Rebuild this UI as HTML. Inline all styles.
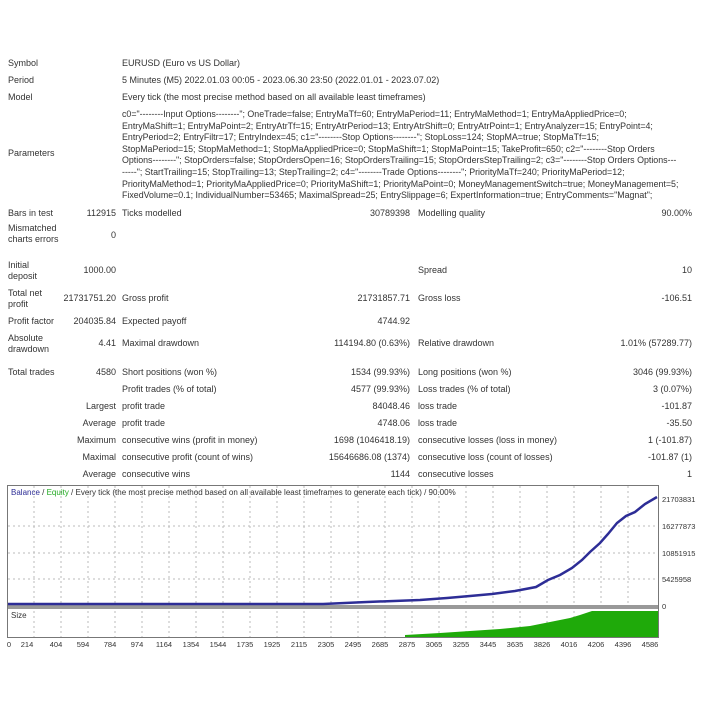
<!DOCTYPE html>
<html><head><meta charset="utf-8"><style>
body{margin:0;width:701px;height:701px;background:#fff;position:relative;overflow:hidden;font-family:"Liberation Sans",sans-serif;font-size:9px;color:#333}
.t{position:absolute;white-space:nowrap;line-height:11px}
.r{text-align:right}
.p{position:absolute;left:122px;top:109px;line-height:11.6px;font-size:8.85px;white-space:nowrap}
</style></head><body>
<div class="t" style="left:8px;top:58px">Symbol</div><div class="t" style="left:122px;top:58px">EURUSD (Euro vs US Dollar)</div>
<div class="t" style="left:8px;top:75px">Period</div><div class="t" style="left:122px;top:75px">5 Minutes (M5) 2022.01.03 00:05 - 2023.06.30 23:50 (2022.01.01 - 2023.07.02)</div>
<div class="t" style="left:8px;top:92px">Model</div><div class="t" style="left:122px;top:92px">Every tick (the most precise method based on all available least timeframes)</div>
<div class="t" style="left:8px;top:148px">Parameters</div>
<div class="p">c0="--------Input Options--------"; OneTrade=false; EntryMaTf=60; EntryMaPeriod=11; EntryMaMethod=1; EntryMaAppliedPrice=0;<br>EntryMaShift=1; EntryMaPoint=2; EntryAtrTf=15; EntryAtrPeriod=13; EntryAtrShift=0; EntryAtrPoint=1; EntryAnalyzer=15; EntryPoint=4;<br>EntryPeriod=2; EntryFiltr=17; EntryIndex=45; c1="--------Stop Options--------"; StopLoss=124; StopMA=true; StopMaTf=15;<br>StopMaPeriod=15; StopMaMethod=1; StopMaAppliedPrice=0; StopMaShift=1; StopMaPoint=15; TakeProfit=650; c2="--------Stop Orders<br>Options--------"; StopOrders=false; StopOrdersOpen=16; StopOrdersTrailing=15; StopOrdersStepTrailing=2; c3="--------Stop Orders Options---<br>-----"; StartTrailing=15; StopTrailing=13; StepTrailing=2; c4="--------Trade Options--------"; PriorityMaTf=240; PriorityMaPeriod=12;<br>PriorityMaMethod=1; PriorityMaAppliedPrice=0; PriorityMaShift=1; PriorityMaPoint=0; MoneyManagementSwitch=true; MoneyManagement=5;<br>FixedVolume=0.1; IndividualNumber=53465; MaximalSpread=25; EntrySlippage=6; ExpertInformation=true; EntryComments="Magnat";</div>

<div class="t" style="left:8px;top:208px">Bars in test</div><div class="t r" style="right:585px;top:208px">112915</div><div class="t" style="left:122px;top:208px">Ticks modelled</div><div class="t r" style="right:291px;top:208px">30789398</div><div class="t" style="left:418px;top:208px">Modelling quality</div><div class="t r" style="right:9px;top:208px">90.00%</div>
<div class="t" style="left:8px;top:223px">Mismatched<br>charts errors</div><div class="t r" style="right:585px;top:230px">0</div>
<div class="t" style="left:8px;top:260px">Initial<br>deposit</div><div class="t r" style="right:585px;top:265px">1000.00</div><div class="t" style="left:418px;top:265px">Spread</div><div class="t r" style="right:9px;top:265px">10</div>
<div class="t" style="left:8px;top:288px">Total net<br>profit</div><div class="t r" style="right:585px;top:293px">21731751.20</div><div class="t" style="left:122px;top:293px">Gross profit</div><div class="t r" style="right:291px;top:293px">21731857.71</div><div class="t" style="left:418px;top:293px">Gross loss</div><div class="t r" style="right:9px;top:293px">-106.51</div>
<div class="t" style="left:8px;top:316px">Profit factor</div><div class="t r" style="right:585px;top:316px">204035.84</div><div class="t" style="left:122px;top:316px">Expected payoff</div><div class="t r" style="right:291px;top:316px">4744.92</div>
<div class="t" style="left:8px;top:333px">Absolute<br>drawdown</div><div class="t r" style="right:585px;top:338px">4.41</div><div class="t" style="left:122px;top:338px">Maximal drawdown</div><div class="t r" style="right:291px;top:338px">114194.80 (0.63%)</div><div class="t" style="left:418px;top:338px">Relative drawdown</div><div class="t r" style="right:9px;top:338px">1.01% (57289.77)</div>
<div class="t" style="left:8px;top:367px">Total trades</div><div class="t r" style="right:585px;top:367px">4580</div><div class="t" style="left:122px;top:367px">Short positions (won %)</div><div class="t r" style="right:291px;top:367px">1534 (99.93%)</div><div class="t" style="left:418px;top:367px">Long positions (won %)</div><div class="t r" style="right:9px;top:367px">3046 (99.93%)</div>
<div class="t" style="left:122px;top:384px">Profit trades (% of total)</div><div class="t r" style="right:291px;top:384px">4577 (99.93%)</div><div class="t" style="left:418px;top:384px">Loss trades (% of total)</div><div class="t r" style="right:9px;top:384px">3 (0.07%)</div>
<div class="t r" style="right:585px;top:401px">Largest</div><div class="t" style="left:122px;top:401px">profit trade</div><div class="t r" style="right:291px;top:401px">84048.46</div><div class="t" style="left:418px;top:401px">loss trade</div><div class="t r" style="right:9px;top:401px">-101.87</div>
<div class="t r" style="right:585px;top:418px">Average</div><div class="t" style="left:122px;top:418px">profit trade</div><div class="t r" style="right:291px;top:418px">4748.06</div><div class="t" style="left:418px;top:418px">loss trade</div><div class="t r" style="right:9px;top:418px">-35.50</div>
<div class="t r" style="right:585px;top:435px">Maximum</div><div class="t" style="left:122px;top:435px">consecutive wins (profit in money)</div><div class="t r" style="right:291px;top:435px">1698 (1046418.19)</div><div class="t" style="left:418px;top:435px">consecutive losses (loss in money)</div><div class="t r" style="right:9px;top:435px">1 (-101.87)</div>
<div class="t r" style="right:585px;top:452px">Maximal</div><div class="t" style="left:122px;top:452px">consecutive profit (count of wins)</div><div class="t r" style="right:291px;top:452px">15646686.08 (1374)</div><div class="t" style="left:418px;top:452px">consecutive loss (count of losses)</div><div class="t r" style="right:9px;top:452px">-101.87 (1)</div>
<div class="t r" style="right:585px;top:469px">Average</div><div class="t" style="left:122px;top:469px">consecutive wins</div><div class="t r" style="right:291px;top:469px">1144</div><div class="t" style="left:418px;top:469px">consecutive losses</div><div class="t r" style="right:9px;top:469px">1</div>

<svg style="position:absolute;left:0;top:0" width="701" height="701" font-family="Liberation Sans, sans-serif" font-size="8" fill="#333">
<rect x="7.5" y="485.5" width="651" height="152" fill="#fff" stroke="#777"/>
<g stroke="#bbb" stroke-dasharray="2,3">
<line x1="8" y1="526" x2="658" y2="526"/><line x1="8" y1="553" x2="658" y2="553"/><line x1="8" y1="579" x2="658" y2="579"/>
<line x1="34" y1="486" x2="34" y2="637"/><line x1="61" y1="486" x2="61" y2="637"/><line x1="88" y1="486" x2="88" y2="637"/><line x1="115" y1="486" x2="115" y2="637"/><line x1="142" y1="486" x2="142" y2="637"/><line x1="169" y1="486" x2="169" y2="637"/><line x1="196" y1="486" x2="196" y2="637"/><line x1="223" y1="486" x2="223" y2="637"/><line x1="250" y1="486" x2="250" y2="637"/><line x1="277" y1="486" x2="277" y2="637"/><line x1="304" y1="486" x2="304" y2="637"/><line x1="331" y1="486" x2="331" y2="637"/><line x1="358" y1="486" x2="358" y2="637"/><line x1="385" y1="486" x2="385" y2="637"/><line x1="412" y1="486" x2="412" y2="637"/><line x1="439" y1="486" x2="439" y2="637"/><line x1="466" y1="486" x2="466" y2="637"/><line x1="493" y1="486" x2="493" y2="637"/><line x1="520" y1="486" x2="520" y2="637"/><line x1="547" y1="486" x2="547" y2="637"/><line x1="574" y1="486" x2="574" y2="637"/><line x1="601" y1="486" x2="601" y2="637"/><line x1="628" y1="486" x2="628" y2="637"/>
</g>
<rect x="8" y="605" width="650" height="4" fill="#999"/>
<polygon points="405,637 405,635 440,633 470,631 500,629 530,626 550,622 570,618 580,615 592,611 658,611 658,637" fill="#1faa0a"/>
<polyline points="8,604 323,604 367,602 420,600 447,598 470,596 492,594 515,591 536,587 548,580 560,575 572,568 582,560 590,552 600,543 608,534 617,523 626,516 635,512 645,504 657,497" fill="none" stroke="#2d2d96" stroke-width="2.5"/>
<text x="11" y="495"><tspan fill="#2d2d96">Balance</tspan><tspan fill="#333"> / </tspan><tspan fill="#2a2">Equity</tspan><tspan fill="#333"> / Every tick (the most precise method based on all available least timeframes to generate each tick) / 90.00%</tspan></text>
<text x="11" y="618">Size</text>
<g font-size="7.5"><text x="662" y="502">21703831</text><text x="662" y="529">16277873</text><text x="662" y="556">10851915</text><text x="662" y="582">5425958</text><text x="662" y="609">0</text></g>
<g font-size="7.5" text-anchor="middle"><text x="9" y="647">0</text><text x="27" y="647">214</text><text x="56" y="647">404</text><text x="83" y="647">594</text><text x="110" y="647">784</text><text x="137" y="647">974</text><text x="164" y="647">1164</text><text x="191" y="647">1354</text><text x="218" y="647">1544</text><text x="245" y="647">1735</text><text x="272" y="647">1925</text><text x="299" y="647">2115</text><text x="326" y="647">2305</text><text x="353" y="647">2495</text><text x="380" y="647">2685</text><text x="407" y="647">2875</text><text x="434" y="647">3065</text><text x="461" y="647">3255</text><text x="488" y="647">3445</text><text x="515" y="647">3635</text><text x="542" y="647">3826</text><text x="569" y="647">4016</text><text x="596" y="647">4206</text><text x="623" y="647">4396</text><text x="650" y="647">4586</text></g>
</svg>
</body></html>
